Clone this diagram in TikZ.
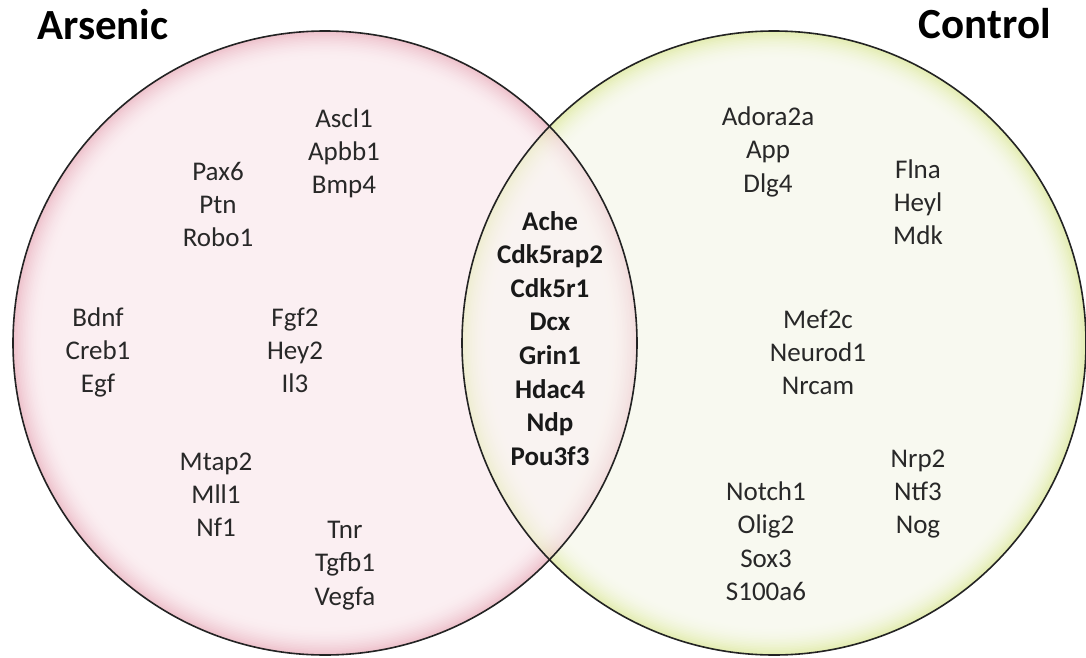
\documentclass[tikz,border=0pt]{standalone}
\usepackage{fontspec}
\setmainfont{Carlito}
\definecolor{pinkbase}{RGB}{251,239,242}
\definecolor{pinkedge}{RGB}{238,194,204}
\definecolor{greenbase}{RGB}{248,249,240}
\definecolor{greenedge}{RGB}{228,237,178}
\definecolor{genegray}{RGB}{40,40,40}
\definecolor{rimgray}{RGB}{35,35,35}
\tikzset{
  gene/.style={font=\fontsize{27}{33}\selectfont, anchor=base, inner sep=0pt, text=genegray},
  shared/.style={gene, font=\fontsize{27}{33}\selectfont\bfseries, text=black!90},
  settitle/.style={font=\fontsize{43}{50}\selectfont\bfseries, inner sep=0pt, text=black},
  rim/.style={draw=rimgray, line width=1.6pt}
}
\newcommand\genegroup[6]{%
  \foreach \t [count=\i] in {#6} {\node[#5] (#1\i) at (#2,{#3+#4*(\i-1)}) {\t};}}
% disc with a soft inner glow near its rim: centre x, centre y, edge colour, base colour, opacity
\newcommand\glowdisc[5]{%
  \foreach \k in {0,...,18} {%
    \pgfmathsetmacro\f{100*(1-\k/18)^2}%
    \fill[#3!\f!#4, fill opacity=#5] (#1,#2) circle ({312-1.6*\k});}}
\begin{document}
\begin{tikzpicture}[x=1pt,y=-1pt]
\useasboundingbox (0,0) rectangle (1086,658);
% circles
\glowdisc{325}{343}{pinkedge}{pinkbase}{1}
\glowdisc{774}{343}{greenedge}{greenbase}{1}
\begin{scope}
  \clip (774,343) circle (312);
  \begin{scope}[transparency group, opacity=0.5]
    \glowdisc{325}{343}{pinkedge}{pinkbase}{1}
  \end{scope}
\end{scope}
\draw[rim] (325,343) circle (312);
\draw[rim] (774,343) circle (312);
% titles
\node[settitle, anchor=base west] (arsenic) at (37,40) {Arsenic};
\node[settitle, anchor=base east] (control) at (1051,39) {Control};
% Arsenic only
\genegroup{asc}{344}{128}{32.5}{gene}{Ascl1,Apbb1,Bmp4}
\genegroup{pax}{218}{180}{33}{gene}{Pax6,Ptn,Robo1}
\genegroup{bdn}{98}{326}{33}{gene}{Bdnf,Creb1,Egf}
\genegroup{fgf}{295}{326}{33}{gene}{Fgf2,Hey2,Il3}
\genegroup{mta}{216}{470}{33}{gene}{Mtap2,Mll1,Nf1}
\genegroup{tnr}{345}{538}{33.5}{gene}{Tnr,Tgfb1,Vegfa}
% shared
\genegroup{sh}{550}{230}{33.6}{shared}{Ache,Cdk5rap2,Cdk5r1,Dcx,Grin1,Hdac4,Ndp,Pou3f3}
% Control only
\genegroup{ado}{768}{125}{33.5}{gene}{Adora2a,App,Dlg4}
\genegroup{fln}{918}{178}{33}{gene}{Flna,Heyl,Mdk}
\genegroup{mef}{818}{328}{33}{gene}{Mef2c,Neurod1,Nrcam}
\genegroup{nrp}{918}{467}{33}{gene}{Nrp2,Ntf3,Nog}
\genegroup{not}{766}{500}{33.5}{gene}{Notch1,Olig2,Sox3,S100a6}
\end{tikzpicture}
\end{document}
